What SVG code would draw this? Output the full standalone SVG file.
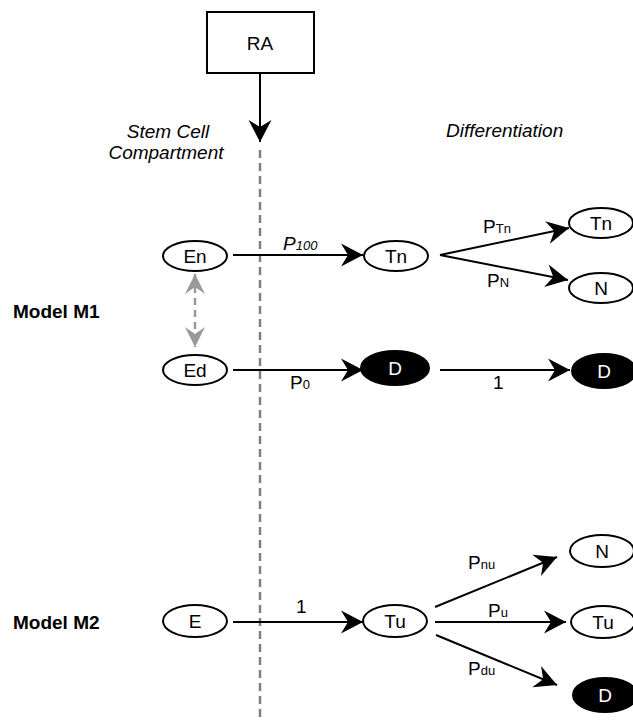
<svg xmlns="http://www.w3.org/2000/svg" width="633" height="720" viewBox="0 0 633 720">
<defs>
<style>
text{font-family:"Liberation Sans",Arial,sans-serif;font-size:19px;fill:#000}
.c{text-anchor:middle}
.it{font-style:italic}
.b{font-weight:bold}
.s{font-size:13px}
.node{fill:#fff;stroke:#000;stroke-width:2}
.dark{fill:#000;stroke:#000;stroke-width:2}
.wt{fill:#fff}
.edge{stroke:#000;stroke-width:2;fill:none}
</style>
<marker id="arr" viewBox="-23 -12 24 24" refX="0" refY="0" markerWidth="24" markerHeight="24" orient="auto" markerUnits="userSpaceOnUse">
<path d="M0,0 L-22,-11.5 L-15,0 L-22,11.5 Z" fill="#000"/>
</marker>
<marker id="garr" viewBox="-22 -12 23 24" refX="0" refY="0" markerWidth="23" markerHeight="24" orient="auto-start-reverse" markerUnits="userSpaceOnUse">
<path d="M0,0 L-20,-10 L-13,0 L-20,10 Z" fill="#999"/>
</marker>
</defs>
<rect width="633" height="720" fill="#fff"/>

<g id="ra">
<rect x="207" y="12" width="107" height="61" fill="#fff" stroke="#000" stroke-width="2"/>
<text class="c" x="260" y="50">RA</text>
</g>

<g id="labels">
<text class="c it" x="168" y="138">Stem Cell</text>
<text class="c it" x="166" y="159">Compartment</text>
<text class="it" x="446" y="137">Differentiation</text>
<text class="b" x="13" y="318">Model M1</text>
<text class="b" x="13" y="629">Model M2</text>
</g>

<g id="connectors">
<line x1="260" y1="150" x2="260" y2="720" stroke="#808080" stroke-width="2.5" stroke-dasharray="8,5"/>
<line class="edge" x1="260" y1="73" x2="260" y2="142" marker-end="url(#arr)"/>
<line x1="195" y1="274" x2="195" y2="347" stroke="#999" stroke-width="2.5" stroke-dasharray="7,5" marker-start="url(#garr)" marker-end="url(#garr)"/>
<line class="edge" x1="233" y1="255" x2="363" y2="255" marker-end="url(#arr)"/>
<line class="edge" x1="440" y1="255" x2="569" y2="228" marker-end="url(#arr)"/>
<line class="edge" x1="440" y1="255" x2="568" y2="280" marker-end="url(#arr)"/>
<line class="edge" x1="233" y1="370" x2="363" y2="370" marker-end="url(#arr)"/>
<line class="edge" x1="440" y1="370" x2="570" y2="370" marker-end="url(#arr)"/>
<line class="edge" x1="233" y1="622" x2="363" y2="622" marker-end="url(#arr)"/>
<line class="edge" x1="435" y1="607" x2="557" y2="557" marker-end="url(#arr)"/>
<line class="edge" x1="435" y1="622" x2="566" y2="622" marker-end="url(#arr)"/>
<line class="edge" x1="436" y1="635" x2="557" y2="685" marker-end="url(#arr)"/>
<text class="it" x="283" y="250">P<tspan class="s">100</tspan></text>
<text x="483" y="233">P<tspan class="s">Tn</tspan></text>
<text x="487" y="287">P<tspan class="s">N</tspan></text>
<text x="290" y="389">P<tspan class="s">0</tspan></text>
<text x="493" y="389">1</text>
<text x="296" y="613">1</text>
<text x="468" y="569">P<tspan class="s">nu</tspan></text>
<text x="488" y="617">P<tspan class="s">u</tspan></text>
<text x="468" y="675">P<tspan class="s">du</tspan></text>
</g>

<g id="en"><ellipse class="node" cx="195" cy="256" rx="32" ry="15"/><text class="c" x="195" y="263">En</text></g>
<g id="tn"><ellipse class="node" cx="396" cy="256" rx="32" ry="15"/><text class="c" x="396" y="263">Tn</text></g>
<g id="tn2"><ellipse class="node" cx="601" cy="223" rx="32" ry="15"/><text class="c" x="601" y="230">Tn</text></g>
<g id="n1"><ellipse class="node" cx="601" cy="288" rx="32" ry="15"/><text class="c" x="601" y="295">N</text></g>
<g id="ed"><ellipse class="node" cx="195" cy="370" rx="32" ry="15"/><text class="c" x="195" y="377">Ed</text></g>
<g id="d1"><ellipse class="dark" cx="395" cy="368" rx="34" ry="17"/><text class="c wt" x="395" y="375">D</text></g>
<g id="d2"><ellipse class="dark" cx="604" cy="371" rx="32" ry="17"/><text class="c wt" x="604" y="378">D</text></g>
<g id="e"><ellipse class="node" cx="195" cy="621" rx="32" ry="16"/><text class="c" x="195" y="628">E</text></g>
<g id="tu"><ellipse class="node" cx="395" cy="621" rx="32" ry="16"/><text class="c" x="395" y="628">Tu</text></g>
<g id="n2"><ellipse class="node" cx="602" cy="551" rx="32" ry="16"/><text class="c" x="602" y="558">N</text></g>
<g id="tu2"><ellipse class="node" cx="603" cy="622" rx="32" ry="16"/><text class="c" x="603" y="629">Tu</text></g>
<g id="d3"><ellipse class="dark" cx="605" cy="695" rx="32" ry="17"/><text class="c wt" x="605" y="702">D</text></g>
</svg>
